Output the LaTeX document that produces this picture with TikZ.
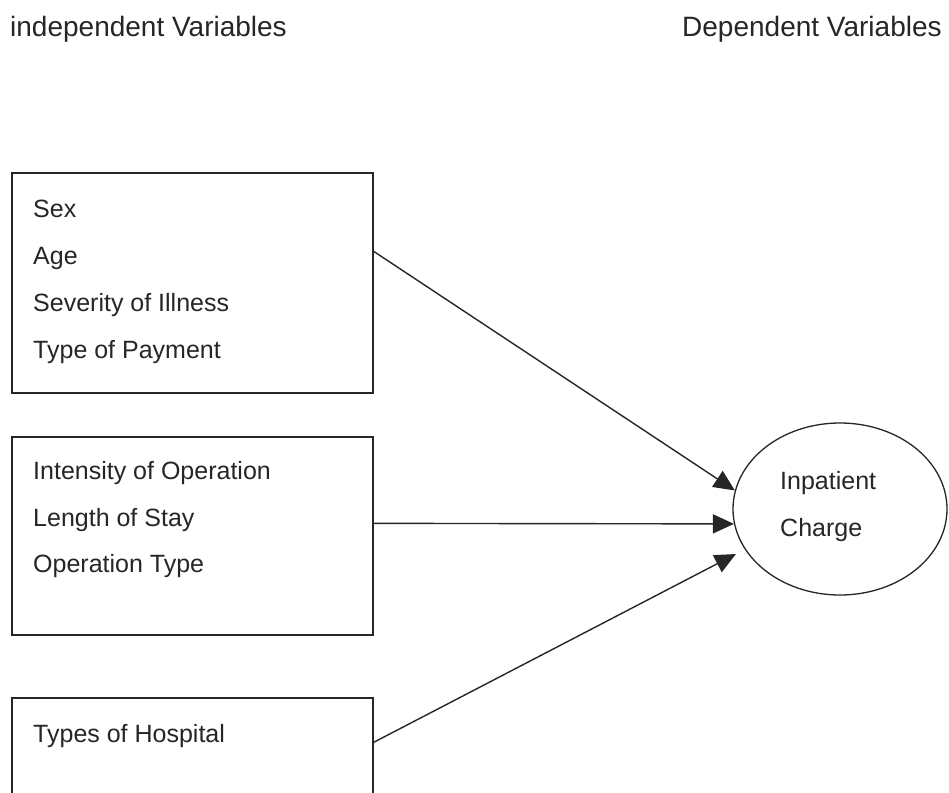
\documentclass[tikz,border=0pt]{standalone}
\usepackage{fontspec}
\setmainfont{Liberation Sans}
\usetikzlibrary{arrows.meta,shapes.geometric,calc}
\tikzset{
  varbox/.style={draw=black!85, line width=1.3pt, rectangle, minimum width=361pt, inner sep=0pt},
  itemtext/.style={anchor=base west, inner sep=0pt, text=black!85, font=\fontsize{25}{30}\selectfont},
  headtext/.style={anchor=base west, inner sep=0pt, text=black!85, font=\fontsize{28}{32}\selectfont},
  outcome/.style={draw=black!85, line width=1.3pt, ellipse, minimum width=214pt, minimum height=172pt, inner sep=0pt},
  conn/.style={draw=black!85, line width=1.4pt, -{Triangle[length=21pt,width=19pt]}}
}
\begin{document}
\begin{tikzpicture}[x=1pt,y=-1pt]
\clip (0,0) rectangle (949,792);
\fill[white] (0,0) rectangle (949,792);

\node[headtext] (hind) at (10,37) {independent Variables};
\node[headtext] (hdep) at (682,37) {Dependent Variables};

\node[varbox, minimum height=220pt] (b1) at (192.5,283) {};
\node[varbox, minimum height=198pt] (b2) at (192.5,536) {};
\node[varbox, minimum height=200pt] (b3) at (192.5,798) {};

\node[itemtext] (t11) at (33,217) {Sex};
\node[itemtext] (t12) at (33,264) {Age};
\node[itemtext] (t13) at (33,311) {Severity of Illness};
\node[itemtext] (t14) at (33,358) {Type of Payment};

\node[itemtext] (t21) at (33,479) {Intensity of Operation};
\node[itemtext] (t22) at (33,526) {Length of Stay};
\node[itemtext] (t23) at (33,572) {Operation Type};

\node[itemtext] (t31) at (33,742) {Types of Hospital};

\node[outcome] (ell) at (840,509) {};
\node[itemtext] (e1) at (780,489) {Inpatient};
\node[itemtext] (e2) at (780,536) {Charge};

\coordinate (s1) at ($(b1.north east)+(0,79)$);
\coordinate (s2) at ($(b2.north east)+(0,87)$);
\coordinate (s3) at ($(b3.north east)+(0,45)$);

\draw[conn] (s1) -- (ell.170);
\draw[conn] (s2) -- (ell.188);
\draw[conn, shorten >=10pt] (s3) -- (ell.203);
\end{tikzpicture}
\end{document}
